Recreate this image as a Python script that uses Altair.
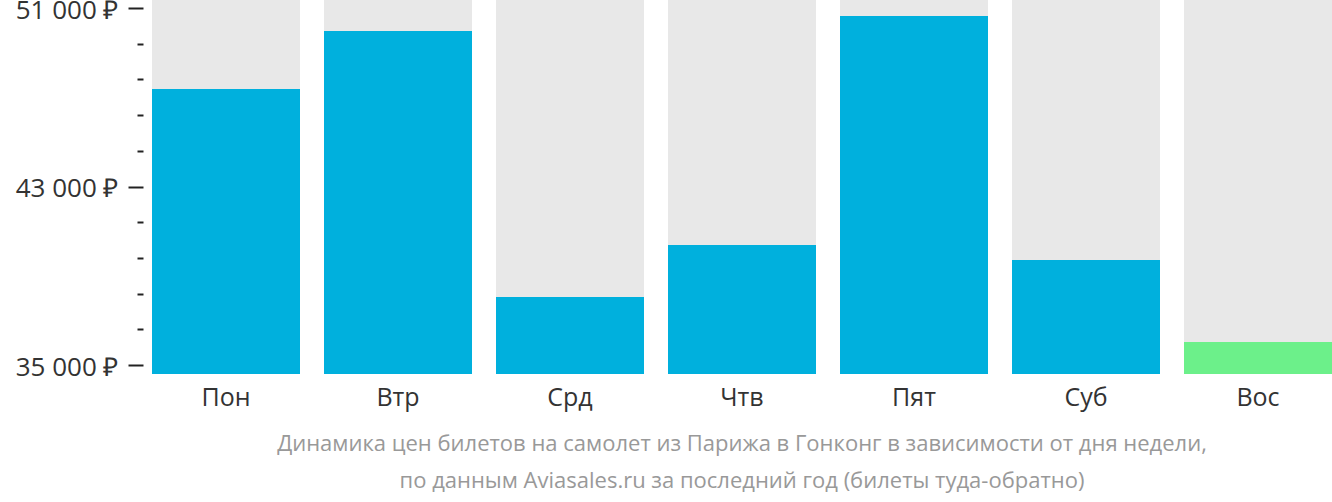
import altair as alt
import pandas as pd

days = ["Пон", "Втр", "Срд", "Чтв", "Пят", "Суб", "Вос"]
prices = [47370, 49970, 38050, 40380, 50640, 39710, 36030]
highlight = [False, False, False, False, False, False, True]
major_ticks = [35000, 43000, 51000]
minor_ticks = [36600, 38200, 39800, 41400, 44600, 46200, 47800, 49400]
caption = [
    "Динамика цен билетов на самолет из Парижа в Гонконг в зависимости от дня недели,",
    "по данным Aviasales.ru за последний год (билеты туда-обратно)",
]

Y_MIN, Y_MAX = 34597, 51360

df = pd.DataFrame({"day": days, "price": prices, "cheap": highlight})
df["top"] = Y_MAX
df["bottom"] = Y_MIN

font = "Open Sans"

x = alt.X(
    "day:N",
    sort=days,
    scale=alt.Scale(paddingInner=24 / 172, paddingOuter=0),
    axis=alt.Axis(
        title=None, domain=False, ticks=False, labelAngle=0,
        labelFontSize=25, labelColor="#333333", labelFont=font, labelPadding=11,
    ),
)
yscale = alt.Scale(domain=[Y_MIN, Y_MAX], nice=False, zero=False)

bg = alt.Chart(df).mark_bar(color="#e8e8e8").encode(
    x=x,
    y=alt.Y("top:Q", scale=yscale, axis=alt.Axis(
        title=None, domain=False, grid=False, values=minor_ticks, orient="left",
        tickSize=6, tickWidth=2, tickColor="#222222", offset=9, labels=False,
    )),
    y2="bottom:Q",
)

bars = alt.Chart(df).mark_bar().encode(
    x=x,
    y=alt.Y("price:Q", scale=yscale, axis=alt.Axis(
        title=None, domain=False, grid=False, values=major_ticks, orient="left",
        tickSize=15, tickWidth=2, tickColor="#222222", offset=9, labelPadding=10,
        labelOverlap=False, labelBound=False, labelFlush=False, labelOffset=2,
        labelExpr="replace(format(datum.value, ',d'), ',', ' ') + ' ₽'",
        labelFontSize=26, labelColor="#333333", labelFont=font,
    )),
    y2="bottom:Q",
    color=alt.Color("cheap:N", scale=alt.Scale(domain=[False, True], range=["#00b0dd", "#6cf08a"]), legend=None),
)

chart = (
    alt.layer(bg, bars)
    .resolve_axis(y="independent")
    .properties(
        width=1180, height=374,
        autosize=alt.AutoSizeParams(type="none"),
        padding={"left": 152, "top": 0, "right": 0, "bottom": 128},
        title=alt.TitleParams(
            text=caption, orient="bottom", anchor="middle", fontSize=22, font=font,
            fontWeight="normal", color="#999999", lineHeight=37, offset=24,
        ),
    )
    .configure_view(stroke=None)
)

chart.save("out.html", embed_options={"renderer": "svg", "actions": False})
